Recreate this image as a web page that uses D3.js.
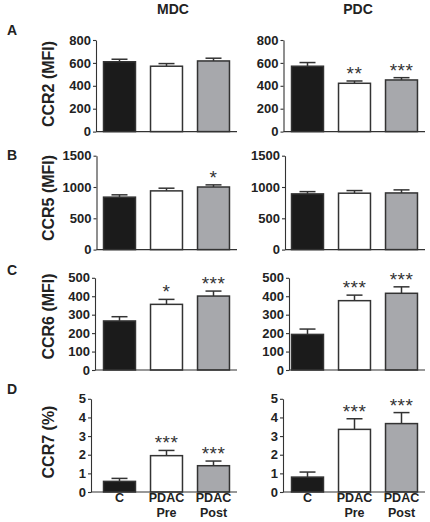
<!DOCTYPE html>
<html><head><meta charset="utf-8">
<script src="https://cdn.jsdelivr.net/npm/d3@7"></script>
<style>
html,body{margin:0;padding:0;background:#fff;}
svg{display:block;font-family:"Liberation Sans",Arial,sans-serif;}
</style></head>
<body>
<svg id="chart" width="430" height="522"></svg>
<script>
// ---------- data ----------
const categories = ["C", "PDAC Pre", "PDAC Post"];
const categoryLines = [["C"], ["PDAC", "Pre"], ["PDAC", "Post"]];
const groups = ["MDC", "PDC"];
const panelLetters = ["A", "B", "C", "D"];
const markers = ["CCR2 (MFI)", "CCR5 (MFI)", "CCR6 (MFI)", "CCR7 (%)"];
const yMaxima = [800, 1500, 500, 5];
const yTickSteps = [200, 500, 100, 1];

const ccr2MDC = [610, 571, 617];   const ccr2MDCsem = [22, 23, 24];
const ccr2PDC = [571, 422, 451];   const ccr2PDCsem = [32, 20, 20];
const ccr5MDC = [838, 938, 1000];  const ccr5MDCsem = [37, 43, 34];
const ccr5PDC = [890, 901, 905];   const ccr5PDCsem = [36, 42, 49];
const ccr6MDC = [266, 356, 401];   const ccr6MDCsem = [23, 27, 27];
const ccr6PDC = [193, 376, 416];   const ccr6PDCsem = [29, 30, 35];
const ccr7MDC = [0.57, 1.95, 1.41]; const ccr7MDCsem = [0.16, 0.28, 0.25];
const ccr7PDC = [0.80, 3.36, 3.67]; const ccr7PDCsem = [0.27, 0.57, 0.59];

const sigCCR2MDC = ["", "", ""];     const sigCCR2PDC = ["", "**", "***"];
const sigCCR5MDC = ["", "", "*"];    const sigCCR5PDC = ["", "", ""];
const sigCCR6MDC = ["", "*", "***"]; const sigCCR6PDC = ["", "***", "***"];
const sigCCR7MDC = ["", "***", "***"]; const sigCCR7PDC = ["", "***", "***"];

const means = [[ccr2MDC, ccr2PDC], [ccr5MDC, ccr5PDC], [ccr6MDC, ccr6PDC], [ccr7MDC, ccr7PDC]];
const sems  = [[ccr2MDCsem, ccr2PDCsem], [ccr5MDCsem, ccr5PDCsem], [ccr6MDCsem, ccr6PDCsem], [ccr7MDCsem, ccr7PDCsem]];
const sigs  = [[sigCCR2MDC, sigCCR2PDC], [sigCCR5MDC, sigCCR5PDC], [sigCCR6MDC, sigCCR6PDC], [sigCCR7MDC, sigCCR7PDC]];

// ---------- layout ----------
const rowTop = [40, 155.7, 277.8, 398.8];
const rowBottom = [131.6, 249.6, 370, 492];
const bandRanges = [[96, 237], [284, 425]];
const axisX = [[96, 96.5, 95, 91], [283.5, 285, 289, 283]];
const titleX = [173, 358];
const yTitleY = [84, 198, 316.5, 442];
const letterY = [35, 160, 274.5, 394];
const fills = ["#1b1b1b", "#ffffff", "#a7a8ac"];
const ink = "#222";

const svg = d3.select("#chart");

groups.forEach((g, gi) => {
  svg.append("text").attr("x", titleX[gi]).attr("y", 14)
    .attr("text-anchor", "middle").attr("font-size", 14).attr("font-weight", "bold")
    .attr("fill", ink).text(g);
});

markers.forEach((m, ri) => {
  svg.append("text").attr("x", 7).attr("y", letterY[ri])
    .attr("font-size", 14).attr("font-weight", "bold").attr("fill", ink).text(panelLetters[ri]);
  svg.append("text")
    .attr("transform", `translate(54,${yTitleY[ri]}) rotate(-90)`)
    .attr("text-anchor", "middle").attr("font-size", 16).attr("font-weight", "bold")
    .attr("fill", ink).text(m);

  const y = d3.scaleLinear().domain([0, yMaxima[ri]]).range([rowBottom[ri], rowTop[ri]]);
  const ticks = d3.range(0, yMaxima[ri] + yTickSteps[ri] / 2, yTickSteps[ri]);

  groups.forEach((g, gi) => {
    const x = d3.scaleBand().domain(categories).range(bandRanges[gi])
      .paddingInner(0.32).paddingOuter(0.16);
    const ax = axisX[gi][ri];
    const gAxis = svg.append("g").attr("transform", `translate(${ax},0)`)
      .call(d3.axisLeft(y).tickValues(ticks).tickSize(3).tickSizeOuter(0).tickPadding(2).tickFormat(d3.format("d")));
    gAxis.select(".domain").attr("stroke", "#333").attr("stroke-width", 1.1);
    gAxis.selectAll(".tick line").attr("stroke", "#333").attr("stroke-width", 1.1);
    gAxis.selectAll(".tick text").attr("font-size", 13).attr("font-weight", "bold")
      .attr("fill", ink).attr("font-family", "'Liberation Sans', Arial, sans-serif");

    const rows = categories.map((c, i) => ({c, i, v: means[ri][gi][i], e: sems[ri][gi][i], s: sigs[ri][gi][i]}));

    // error bars (upper only)
    const cap = 8;
    rows.forEach(d => {
      const cx = x(d.c) + x.bandwidth() / 2;
      svg.append("line").attr("x1", cx).attr("x2", cx)
        .attr("y1", y(d.v)).attr("y2", y(d.v + d.e))
        .attr("stroke", "#333").attr("stroke-width", 1.5);
      svg.append("line").attr("x1", cx - cap).attr("x2", cx + cap)
        .attr("y1", y(d.v + d.e)).attr("y2", y(d.v + d.e))
        .attr("stroke", "#333").attr("stroke-width", 1.5);
    });

    svg.append("g").selectAll("rect").data(rows).join("rect")
      .attr("x", d => x(d.c)).attr("width", x.bandwidth())
      .attr("y", d => y(d.v)).attr("height", d => y(0) - y(d.v))
      .attr("fill", d => fills[d.i]).attr("stroke", "#333").attr("stroke-width", 1.5);

    // x axis line
    svg.append("line").attr("x1", ax).attr("x2", bandRanges[gi][1])
      .attr("y1", y(0)).attr("y2", y(0)).attr("stroke", "#333").attr("stroke-width", 1.1);

    // significance stars
    svg.append("g").selectAll("text").data(rows.filter(d => d.s)).join("text")
      .attr("x", d => x(d.c) + x.bandwidth() / 2)
      .attr("y", d => y(d.v + d.e) - 1)
      .attr("text-anchor", "middle").attr("font-size", 19).attr("letter-spacing", 0.5).attr("fill", "#333")
      .text(d => d.s);

    // category labels on last row
    if (ri === markers.length - 1) {
      rows.forEach(d => {
        const t = svg.append("text").attr("x", x(d.c) + x.bandwidth() / 2)
          .attr("text-anchor", "middle").attr("font-size", 12.5).attr("font-weight", "bold").attr("fill", ink);
        categoryLines[d.i].forEach((ln, li) => {
          t.append("tspan").attr("x", x(d.c) + x.bandwidth() / 2)
            .attr("y", 502 + li * 15).text(ln);
        });
      });
    }
  });
});
</script>
</body></html>
